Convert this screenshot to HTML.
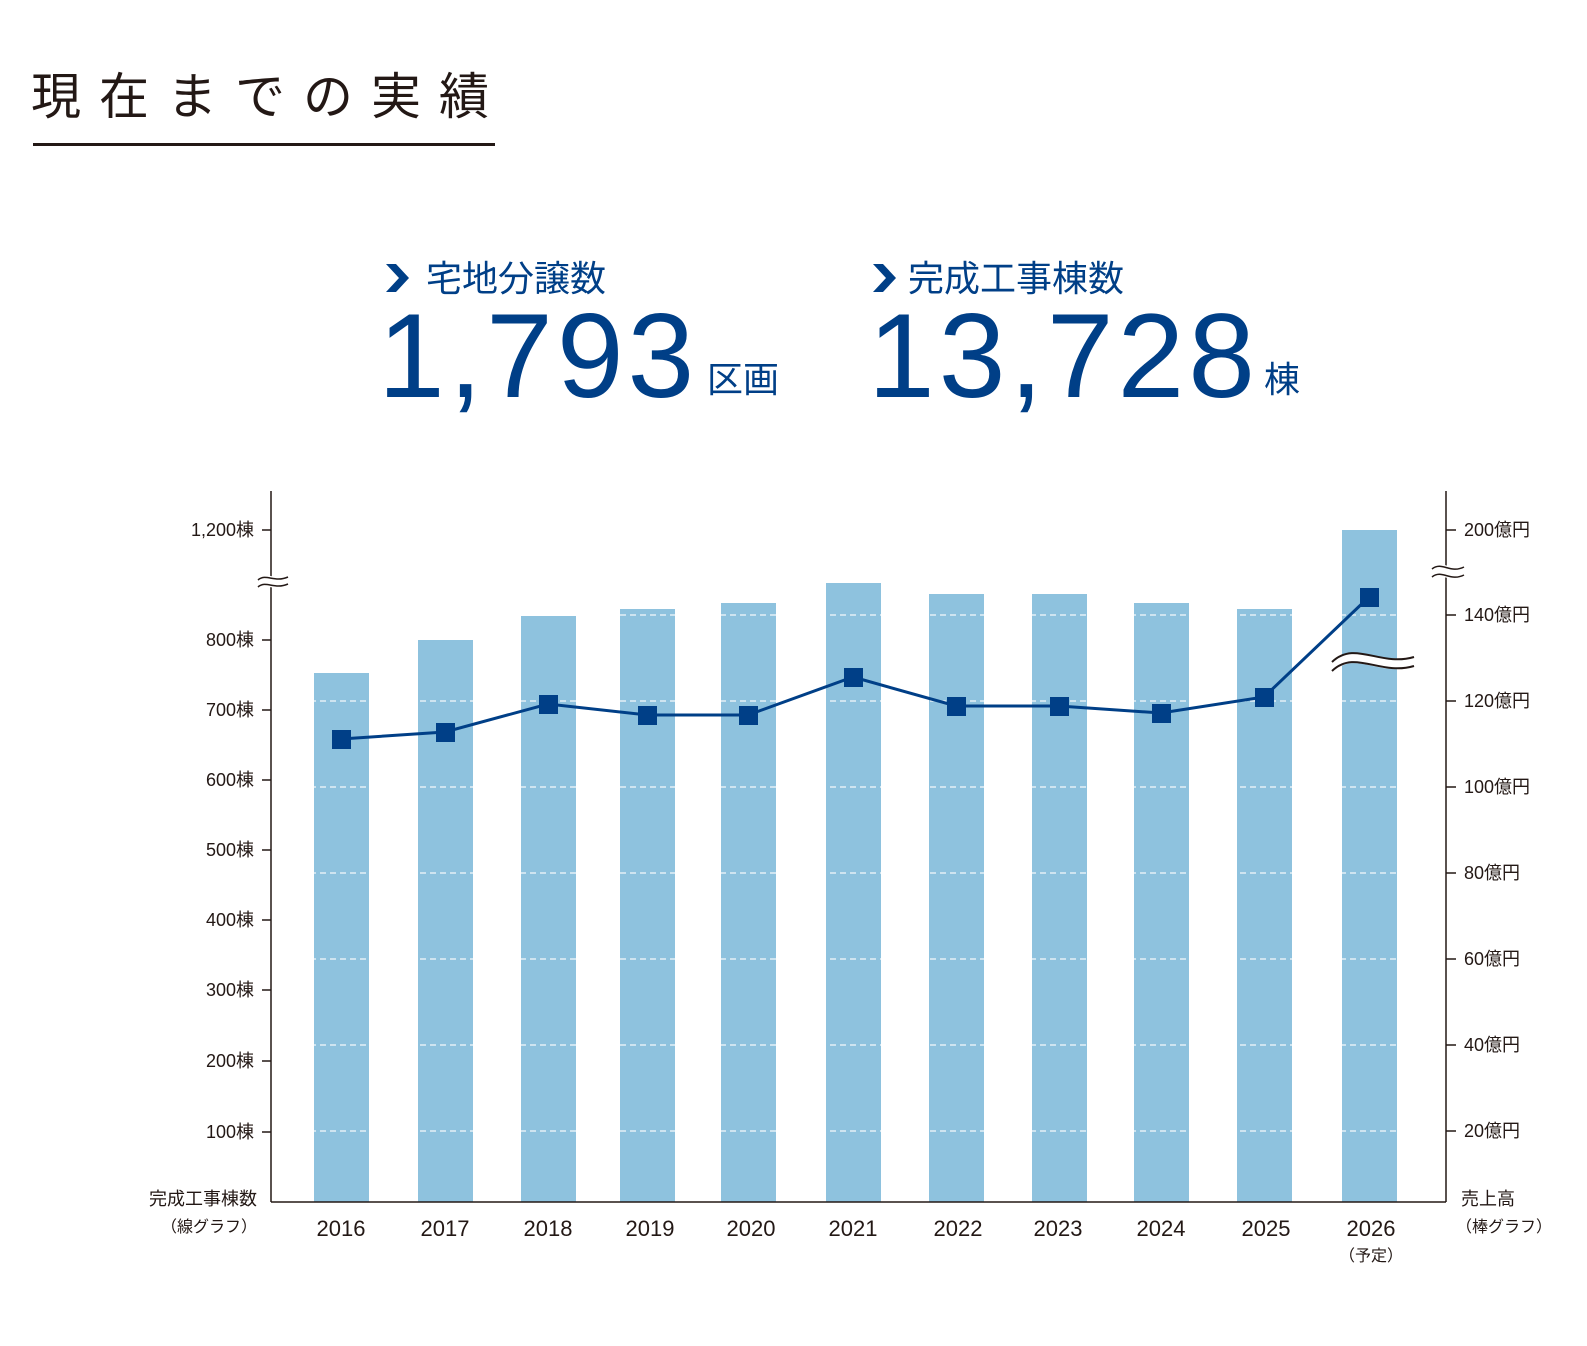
<!DOCTYPE html>
<html><head><meta charset="utf-8"><style>
html,body{margin:0;padding:0;background:#fff;width:1587px;height:1346px;overflow:hidden}
</style></head><body>
<svg width="1587" height="1346" xmlns="http://www.w3.org/2000/svg" style="font-family:'Liberation Sans','Noto Sans CJK JP',sans-serif">
<text x="31" y="114" font-size="50" fill="#231815" letter-spacing="18" font-family="'Noto Sans CJK JP',sans-serif">現在までの実績</text>
<rect x="33" y="143" width="462" height="3" fill="#231815"/>
<g fill="#003f87">
<path d="M386 264 L396 264 L409 278 L396 292 L386 292 L399 278 Z"/>
<text x="426" y="291" font-size="36" font-family="'Noto Sans CJK JP',sans-serif">宅地分譲数</text>
<text x="378" y="397" font-size="120" letter-spacing="4">1,793</text>
<text x="707" y="392" font-size="36" font-family="'Noto Sans CJK JP',sans-serif">区画</text>
<path d="M873 264 L883 264 L896 278 L883 292 L873 292 L886 278 Z"/>
<text x="908" y="291" font-size="36" font-family="'Noto Sans CJK JP',sans-serif">完成工事棟数</text>
<text x="868" y="397" font-size="120" letter-spacing="4">13,728</text>
<text x="1264" y="392" font-size="36" font-family="'Noto Sans CJK JP',sans-serif">棟</text>
</g>
<g fill="#8ec2de">
<rect x="314" y="673" width="55" height="529"/>
<rect x="418" y="640" width="55" height="562"/>
<rect x="521" y="616" width="55" height="586"/>
<rect x="620" y="609" width="55" height="593"/>
<rect x="721" y="603" width="55" height="599"/>
<rect x="826" y="583" width="55" height="619"/>
<rect x="929" y="594" width="55" height="608"/>
<rect x="1032" y="594" width="55" height="608"/>
<rect x="1134" y="603" width="55" height="599"/>
<rect x="1237" y="609" width="55" height="593"/>
<rect x="1342" y="530" width="55" height="672"/>
</g>
<g stroke="#fff" stroke-width="1.2" stroke-dasharray="6,4" opacity="0.9">
<line x1="300" y1="615" x2="1410" y2="615"/>
<line x1="300" y1="701" x2="1410" y2="701"/>
<line x1="300" y1="787" x2="1410" y2="787"/>
<line x1="300" y1="873" x2="1410" y2="873"/>
<line x1="300" y1="959" x2="1410" y2="959"/>
<line x1="300" y1="1045" x2="1410" y2="1045"/>
<line x1="300" y1="1131" x2="1410" y2="1131"/>
</g>
<g fill="#fff">
<rect x="369" y="600" width="49" height="600"/><rect x="473" y="600" width="48" height="600"/>
<rect x="576" y="600" width="44" height="600"/><rect x="675" y="600" width="46" height="600"/>
<rect x="776" y="600" width="50" height="600"/><rect x="881" y="600" width="48" height="600"/>
<rect x="984" y="590" width="48" height="610"/><rect x="1087" y="590" width="47" height="610"/>
<rect x="1189" y="600" width="48" height="600"/><rect x="1292" y="600" width="50" height="600"/>
<rect x="300" y="600" width="14" height="600"/><rect x="1397" y="600" width="20" height="600"/>
<rect x="314" y="600" width="55" height="73"/><rect x="418" y="600" width="55" height="40"/>
<rect x="521" y="600" width="55" height="16"/><rect x="620" y="600" width="55" height="9"/>
<rect x="1237" y="600" width="55" height="9"/>
</g>
<polyline points="341,739 445,732 548,704 647,715 748,715 853,677 956,706 1059,706 1161,713 1264,697 1369,597" fill="none" stroke="#003f87" stroke-width="3"/>
<g fill="#003f87">
<rect x="332" y="730" width="19" height="19"/><rect x="436" y="723" width="19" height="19"/>
<rect x="539" y="695" width="19" height="19"/><rect x="638" y="706" width="19" height="19"/>
<rect x="739" y="706" width="19" height="19"/><rect x="844" y="668" width="19" height="19"/>
<rect x="947" y="697" width="19" height="19"/><rect x="1050" y="697" width="19" height="19"/>
<rect x="1152" y="704" width="19" height="19"/><rect x="1255" y="688" width="19" height="19"/>
<rect x="1360" y="588" width="19" height="19"/>
</g>
<path d="M1332 667 C1355 645 1380 672 1414 662" fill="none" stroke="#fff" stroke-width="10"/>
<path d="M1332 662 C1355 640 1380 667 1414 657 M1332 671 C1355 649 1380 676 1414 666" fill="none" stroke="#231815" stroke-width="2"/>
<g stroke="#231815" stroke-width="1.5" fill="none">
<line x1="271" y1="491" x2="271" y2="1202"/>
<line x1="1446" y1="491" x2="1446" y2="1202"/>
<line x1="271" y1="1202" x2="1446" y2="1202"/>
<path d="M262 530h9M262 640h9M262 710h9M262 780h9M262 850h9M262 920h9M262 990h9M262 1061h9M262 1132h9"/>
<path d="M1446 530h10M1446 615h10M1446 701h10M1446 787h10M1446 873h10M1446 959h10M1446 1045h10M1446 1131h10"/>
</g>
<path d="M258 581 C266 574 274 584 288 578 M258 586 C266 579 274 589 288 583" stroke="#fff" stroke-width="6" fill="none"/>
<path d="M258 580 C266 573 274 583 288 577 M258 587 C266 580 274 590 288 584" stroke="#231815" stroke-width="1.5" fill="none"/>
<path d="M1432 570 C1442 562 1450 575 1464 568 M1432 576 C1442 568 1450 581 1464 574" stroke="#fff" stroke-width="6" fill="none"/>
<path d="M1432 569 C1442 561 1450 574 1464 567 M1432 577 C1442 569 1450 582 1464 575" stroke="#231815" stroke-width="1.5" fill="none"/>
<g font-size="18" fill="#231815" text-anchor="end">
<text x="254" y="536">1,200棟</text><text x="254" y="646">800棟</text><text x="254" y="716">700棟</text>
<text x="254" y="786">600棟</text><text x="254" y="856">500棟</text><text x="254" y="926">400棟</text>
<text x="254" y="996">300棟</text><text x="254" y="1067">200棟</text><text x="254" y="1138">100棟</text>
<text x="257" y="1205">完成工事棟数</text><text x="257" y="1232" font-size="16">（線グラフ）</text>
</g>
<g font-size="18" fill="#231815">
<text x="1464" y="536">200億円</text><text x="1464" y="621">140億円</text><text x="1464" y="707">120億円</text>
<text x="1464" y="793">100億円</text><text x="1464" y="879">80億円</text><text x="1464" y="965">60億円</text>
<text x="1464" y="1051">40億円</text><text x="1464" y="1137">20億円</text>
<text x="1461" y="1205">売上高</text><text x="1456" y="1232" font-size="16">（棒グラフ）</text>
</g>
<g font-size="22" fill="#231815" text-anchor="middle">
<text x="341" y="1236">2016</text><text x="445" y="1236">2017</text><text x="548" y="1236">2018</text>
<text x="650" y="1236">2019</text><text x="751" y="1236">2020</text><text x="853" y="1236">2021</text>
<text x="958" y="1236">2022</text><text x="1058" y="1236">2023</text><text x="1161" y="1236">2024</text>
<text x="1266" y="1236">2025</text><text x="1371" y="1236">2026</text>
<text x="1371" y="1261" font-size="16">（予定）</text>
</g>
</svg>
</body></html>
